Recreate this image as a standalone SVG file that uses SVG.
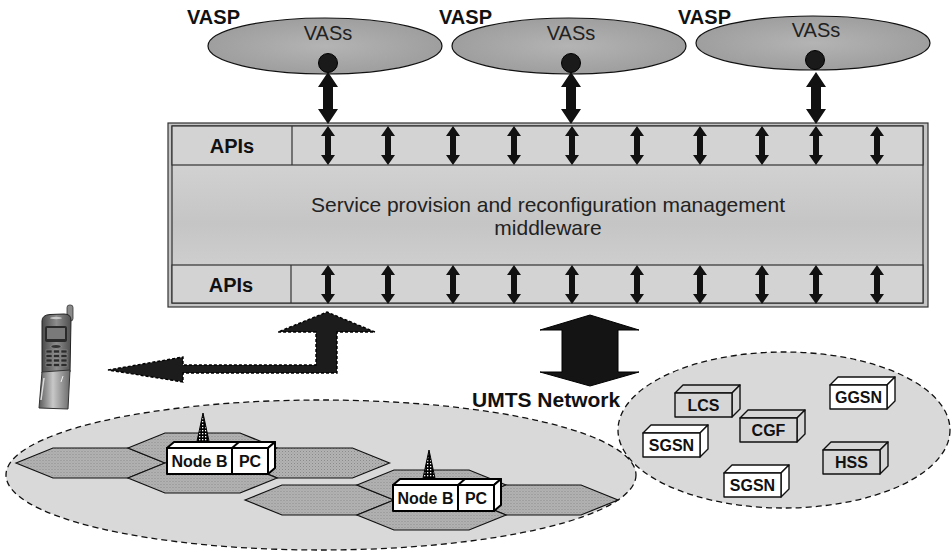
<svg xmlns="http://www.w3.org/2000/svg" width="952" height="556" viewBox="0 0 952 556">
<style>
  text { font-family: "Liberation Sans", Arial, Helvetica, sans-serif; fill: #111; }
  .bold { font-weight: bold; }
  .mid { text-anchor: middle; }
  .vasp { font-size: 20px; font-weight: bold; }
  .vass { font-size: 20px; text-anchor: middle; fill: #222; }
  .api { font-size: 20px; font-weight: bold; text-anchor: middle; }
  .mw { font-size: 21px; text-anchor: middle; fill: #222; }
  .nb { font-size: 16px; font-weight: bold; text-anchor: middle; }
  .cn { font-size: 16px; font-weight: bold; text-anchor: middle; }
  .row { fill: #d3d3d3; stroke: #333; stroke-width: 1.2; }
  .zone { fill: #d9d9d9; stroke: #111; stroke-width: 1.3; stroke-dasharray: 6 4; }
  .hex { fill: url(#stipple); stroke: #111; stroke-width: 1.2; }
  .box { fill: #fff; stroke: #000; stroke-width: 2; stroke-linejoin: round; }
  .cbox { stroke: #111; stroke-width: 1.4; stroke-linejoin: round; }
  .gray { fill: #d6d6d6; }
  .white { fill: #fff; }
  .sarrow { fill: #111; }
  .barrow { fill: #141414; stroke: #000; stroke-width: 1; }
</style>
<defs>
  <radialGradient id="vasFill" cx="0.5" cy="0.5" r="0.6">
    <stop offset="0" stop-color="#b4b4b4"/>
    <stop offset="1" stop-color="#9a9a9a"/>
  </radialGradient>
  <linearGradient id="bandFill" x1="0" y1="0" x2="0" y2="1">
    <stop offset="0" stop-color="#dadada"/>
    <stop offset="0.55" stop-color="#c5c5c5"/>
    <stop offset="1" stop-color="#d6d6d6"/>
  </linearGradient>
  <pattern id="stipple" width="3" height="3" patternUnits="userSpaceOnUse">
    <rect width="3" height="3" fill="#b3b3b3"/>
    <rect width="1" height="1" fill="#8a8a8a"/>
    <rect x="1.5" y="1.5" width="1" height="1" fill="#9c9c9c"/>
  </pattern>
  <pattern id="lattice" width="3" height="3" patternUnits="userSpaceOnUse">
    <rect width="3" height="3" fill="#000"/>
    <rect x="1" y="1" width="1.3" height="1.3" fill="#fff"/>
  </pattern>
  <linearGradient id="phoneBody" x1="0" y1="0" x2="1" y2="0">
    <stop offset="0" stop-color="#4a4a4a"/>
    <stop offset="0.5" stop-color="#8c8c8c"/>
    <stop offset="1" stop-color="#505050"/>
  </linearGradient>
  <linearGradient id="phoneFlip" x1="0" y1="0" x2="1" y2="0">
    <stop offset="0" stop-color="#5a5a5a"/>
    <stop offset="0.45" stop-color="#c8c8c8"/>
    <stop offset="1" stop-color="#6a6a6a"/>
  </linearGradient>
  <!-- small double-headed API arrow, origin at top tip -->
  <path id="apiArrow" d="M0,0 L7,10 L3,10 L3,29 L7,29 L0,39 L-7,29 L-3,29 L-3,10 L-7,10 Z"/>
  <!-- double-headed arrow between a VAS and the middleware -->
  <path id="vasArrow" d="M0,0 L10,15 L5,15 L5,37 L10,37 L0,52 L-10,37 L-5,37 L-5,15 L-10,15 Z"/>
  <!-- flattened hexagonal cell -->
  <path id="cell" d="M-74.5,0 L-37.5,-15 L37.5,-15 L74.5,0 L37.5,15 L-37.5,15 Z"/>
</defs>

<!-- value added service providers -->
<g id="vasp1">
  <ellipse cx="325" cy="46" rx="117" ry="28" fill="url(#vasFill)" stroke="#111" stroke-width="1.2"/>
  <text class="vass" x="328" y="40">VASs</text>
  <circle cx="328" cy="63" r="9.5" fill="#1a1a1a" stroke="#000"/>
  <text class="vasp" x="187" y="24">VASP</text>
</g>
<g id="vasp2">
  <ellipse cx="569" cy="46" rx="117" ry="28" fill="url(#vasFill)" stroke="#111" stroke-width="1.2"/>
  <text class="vass" x="571" y="40">VASs</text>
  <circle cx="571" cy="63" r="9.5" fill="#1a1a1a" stroke="#000"/>
  <text class="vasp" x="439" y="24">VASP</text>
</g>
<g id="vasp3">
  <ellipse cx="813" cy="43" rx="117" ry="27" fill="url(#vasFill)" stroke="#111" stroke-width="1.2"/>
  <text class="vass" x="816" y="37">VASs</text>
  <circle cx="815" cy="60" r="9.5" fill="#1a1a1a" stroke="#000"/>
  <text class="vasp" x="678" y="24">VASP</text>
</g>

<!-- middleware block -->
<g id="middleware">
  <rect x="168" y="123" width="760" height="184" fill="#c4c4c4" stroke="#333" stroke-width="1.2"/>
  <rect x="172" y="126" width="751" height="177" fill="url(#bandFill)" stroke="#333" stroke-width="1.2"/>
  <rect class="row" x="172" y="126" width="751" height="39"/>
  <rect class="row" x="172" y="265" width="751" height="38"/>
  <line x1="292" y1="126" x2="292" y2="165" stroke="#333" stroke-width="1.2"/>
  <line x1="291" y1="265" x2="291" y2="303" stroke="#333" stroke-width="1.2"/>
  <text class="api" x="232" y="153">APIs</text>
  <text class="api" x="231" y="292">APIs</text>
  <text class="mw" x="548" y="212">Service provision and reconfiguration management</text>
  <text class="mw" x="548" y="235">middleware</text>
</g>

<!-- radio access network -->
<g id="radio-network">
  <ellipse class="zone" cx="321" cy="475" rx="315" ry="75"/>
  <use href="#cell" class="hex" x="90.5" y="463"/>
  <use href="#cell" class="hex" x="202.5" y="448"/>
  <use href="#cell" class="hex" x="315" y="463"/>
  <use href="#cell" class="hex" x="202.5" y="478"/>
  <use href="#cell" class="hex" x="319.5" y="500"/>
  <use href="#cell" class="hex" x="431.5" y="485"/>
  <use href="#cell" class="hex" x="543.5" y="500"/>
  <use href="#cell" class="hex" x="431.5" y="515"/>
</g>

<g id="nodeb1">
  <path d="M203,413 L210,446 L196,446 Z" fill="url(#lattice)" stroke="#000" stroke-width="1"/>
  <path class="box" d="M167,448 L174,442 L275,442 L268,448 Z"/>
  <path class="box" d="M268,448 L275,442 L275,468 L268,474 Z"/>
  <rect class="box" x="167" y="448" width="65" height="26"/>
  <rect class="box" x="232" y="448" width="36" height="26"/>
  <line x1="232" y1="448" x2="239" y2="442" stroke="#000" stroke-width="2"/>
  <text class="nb" x="199.5" y="467">Node B</text>
  <text class="nb" x="250" y="467">PC</text>
</g>

<g id="nodeb2">
  <path d="M429,450 L436,483 L422,483 Z" fill="url(#lattice)" stroke="#000" stroke-width="1"/>
  <path class="box" d="M393,485 L400,479 L501,479 L494,485 Z"/>
  <path class="box" d="M494,485 L501,479 L501,505 L494,511 Z"/>
  <rect class="box" x="393" y="485" width="65" height="26"/>
  <rect class="box" x="458" y="485" width="36" height="26"/>
  <line x1="458" y1="485" x2="465" y2="479" stroke="#000" stroke-width="2"/>
  <text class="nb" x="425.5" y="504">Node B</text>
  <text class="nb" x="476" y="504">PC</text>
</g>

<!-- core network -->
<g id="core-network">
  <ellipse class="zone" cx="784" cy="430" rx="166" ry="78"/>
  <text class="bold" x="472" y="407" font-size="21">UMTS Network</text>
</g>

<g id="lcs">
  <path class="cbox gray" d="M675,393 L683,385 L740,385 L732,393 Z"/>
  <path class="cbox gray" d="M732,393 L740,385 L740,409 L732,417 Z"/>
  <rect class="cbox gray" x="675" y="393" width="57" height="24"/>
  <text class="cn" x="703.5" y="411">LCS</text>
</g>
<g id="cgf">
  <path class="cbox gray" d="M740,418 L748,410 L805,410 L797,418 Z"/>
  <path class="cbox gray" d="M797,418 L805,410 L805,434 L797,442 Z"/>
  <rect class="cbox gray" x="740" y="418" width="57" height="24"/>
  <text class="cn" x="768.5" y="436">CGF</text>
</g>
<g id="sgsn1">
  <path class="cbox white" d="M643,433 L651,425 L708,425 L700,433 Z"/>
  <path class="cbox white" d="M700,433 L708,425 L708,449 L700,457 Z"/>
  <rect class="cbox white" x="643" y="433" width="57" height="24"/>
  <text class="cn" x="671.5" y="451">SGSN</text>
</g>
<g id="ggsn">
  <path class="cbox white" d="M830,385 L838,377 L895,377 L887,385 Z"/>
  <path class="cbox white" d="M887,385 L895,377 L895,401 L887,409 Z"/>
  <rect class="cbox white" x="830" y="385" width="57" height="24"/>
  <text class="cn" x="858.5" y="403">GGSN</text>
</g>
<g id="hss">
  <path class="cbox gray" d="M823,450 L831,442 L888,442 L880,450 Z"/>
  <path class="cbox gray" d="M880,450 L888,442 L888,466 L880,474 Z"/>
  <rect class="cbox gray" x="823" y="450" width="57" height="24"/>
  <text class="cn" x="851.5" y="468">HSS</text>
</g>
<g id="sgsn2">
  <path class="cbox white" d="M724,473 L732,465 L789,465 L781,473 Z"/>
  <path class="cbox white" d="M781,473 L789,465 L789,489 L781,497 Z"/>
  <rect class="cbox white" x="724" y="473" width="57" height="24"/>
  <text class="cn" x="752.5" y="491">SGSN</text>
</g>

<!-- mobile handset -->
<g id="phone">
  <rect x="67" y="305" width="6" height="16" rx="2.5" fill="#8a8a8a" stroke="#333" stroke-width="0.8"/>
  <path d="M42,321 Q42,315 50,314.5 L64,314 Q71,314 71,320 L70,372 L42,373 Z" fill="url(#phoneBody)" stroke="#222" stroke-width="1"/>
  <ellipse cx="56" cy="318" rx="6" ry="1.2" fill="#c8c8c8"/>
  <rect x="45" y="326" width="22" height="16" rx="2" fill="#2a2a2a"/>
  <rect x="47" y="328" width="18" height="11" fill="#7a7a7a"/>
  <ellipse cx="56" cy="346.5" rx="5" ry="2" fill="#333" stroke="#aaa" stroke-width="0.6"/>
  <g fill="#2c2c2c" stroke="#999" stroke-width="0.5">
    <rect x="46" y="350" width="6" height="3"/><rect x="53.5" y="350" width="6" height="3"/><rect x="61" y="350" width="6" height="3"/>
    <rect x="46" y="354.5" width="6" height="3"/><rect x="53.5" y="354.5" width="6" height="3"/><rect x="61" y="354.5" width="6" height="3"/>
    <rect x="46" y="359" width="6" height="3"/><rect x="53.5" y="359" width="6" height="3"/><rect x="61" y="359" width="6" height="3"/>
    <rect x="46" y="363.5" width="6" height="3"/><rect x="53.5" y="363.5" width="6" height="3"/><rect x="61" y="363.5" width="6" height="3"/>
  </g>
  <path d="M42,372 L70,370 L68,409 L39,408 Z" fill="url(#phoneFlip)" stroke="#333" stroke-width="1"/>
  <path d="M44,378 L41,400" stroke="#dcdcdc" stroke-width="1.5"/>
  <path d="M63,376 L61,382" stroke="#eee" stroke-width="1"/>
</g>

<!-- connectors -->
<g id="connectors">
  <use href="#vasArrow" class="sarrow" x="328" y="72"/>
  <use href="#vasArrow" class="sarrow" x="571" y="72"/>
  <use href="#vasArrow" class="sarrow" x="816" y="72"/>

  <g class="sarrow">
    <use href="#apiArrow" x="328" y="126"/><use href="#apiArrow" x="388" y="126"/>
    <use href="#apiArrow" x="453" y="126"/><use href="#apiArrow" x="514" y="126"/>
    <use href="#apiArrow" x="572" y="126"/><use href="#apiArrow" x="637" y="126"/>
    <use href="#apiArrow" x="700" y="126"/><use href="#apiArrow" x="762" y="126"/>
    <use href="#apiArrow" x="816" y="126"/><use href="#apiArrow" x="877" y="126"/>
    <use href="#apiArrow" x="328" y="265"/><use href="#apiArrow" x="388" y="265"/>
    <use href="#apiArrow" x="453" y="265"/><use href="#apiArrow" x="514" y="265"/>
    <use href="#apiArrow" x="572" y="265"/><use href="#apiArrow" x="637" y="265"/>
    <use href="#apiArrow" x="700" y="265"/><use href="#apiArrow" x="762" y="265"/>
    <use href="#apiArrow" x="816" y="265"/><use href="#apiArrow" x="877" y="265"/>
  </g>

  <!-- middleware to handset -->
  <path d="M108,370 L183,357 L183,365 L316,365 L316,332 L278,332 L327,312 L375,332 L337,332 L337,373 L183,373 L183,382 Z"
        fill="#1c1c1c" stroke="#000" stroke-width="1.4" stroke-dasharray="3 2"/>

  <!-- middleware to UMTS network -->
  <path class="barrow" d="M590,315 L639,330 L618,330 L618,372 L639,372 L590,386 L540,372 L562,372 L562,330 L540,330 Z"/>
</g>
</svg>
